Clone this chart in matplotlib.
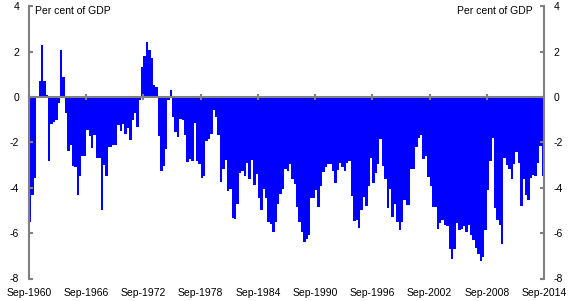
import numpy as np
import matplotlib
matplotlib.use("Agg")
import matplotlib.pyplot as plt

plt.rcParams['font.family'] = ['Liberation Sans', 'DejaVu Sans']
plt.rcParams['axes.unicode_minus'] = False

# quarterly balance, per cent of GDP, Sep-1960 onwards
balance = [
    -5.5, -4.3, -3.55, 0.05, 0.7, 2.3, 0.7, 0.07, -2.8, -1.2,
    -1.1, -1.03, -0.26, 2.06, 0.87, -0.7, -2.4, -2.1, -3.06, -3.1,
    -4.3, -3.5, -2.6, -2.6, -1.44, -1.7, -2.26, -1.68, -2.68, -2.68,
    -4.98, -3.0, -3.47, -2.2, -2.2, -2.1, -2.1, -1.25, -1.5, -1.2,
    -1.65, -1.35, -1.9, -1.0, -0.7, -1.3, -0.12, 1.32, 1.8, 2.43,
    2.07, 1.72, 0.53, 0.44, -1.7, -3.25, -3.03, -2.28, -0.13, 0.3,
    -0.87, -1.53, -1.75, -0.98, -1.0, -1.66, -2.85, -2.75, -2.8, -1.14,
    -2.8, -2.95, -3.56, -3.5, -1.93, -1.85, -1.62, -0.57, -0.87, -1.67,
    -3.74, -3.16, -2.78, -4.13, -4.07, -5.34, -5.38, -4.72, -3.37, -3.28,
    -3.49, -2.93, -3.62, -2.78, -3.87, -3.4, -4.44, -5.0, -4.04, -4.44,
    -5.5, -5.59, -5.94, -5.5, -4.71, -4.27, -4.07, -3.18, -3.24, -2.96,
    -3.6, -3.84, -4.84, -5.53, -5.97, -6.41, -6.24, -6.1, -4.44, -4.44,
    -4.1, -4.84, -3.93, -3.32, -3.1, -2.96, -2.96, -3.24, -3.78, -3.22,
    -2.9, -3.1, -3.25, -2.93, -2.82, -4.37, -5.45, -5.4, -5.77, -5.0,
    -4.42, -4.8, -3.92, -2.7, -3.78, -3.34, -2.96, -1.85, -3.02, -3.62,
    -4.88, -4.05, -5.28, -4.7, -5.53, -5.84, -5.5, -4.54, -4.74, -4.74,
    -3.18, -3.18, -2.19, -1.8, -1.66, -2.73, -2.58, -3.51, -3.92, -4.86,
    -4.86, -5.8, -5.54, -5.43, -5.65, -5.69, -6.71, -7.12, -6.69, -5.54,
    -5.86, -5.8, -5.69, -5.97, -5.65, -6.1, -6.3, -6.65, -6.9, -7.22,
    -7.07, -5.86, -4.1, -2.83, -1.81, -4.9, -5.4, -5.65, -6.5, -2.68,
    -3.0, -3.17, -3.6, -2.96, -2.41, -2.93, -4.8, -3.62, -4.3, -4.56,
    -3.56, -3.44, -3.49, -2.93, -2.15, -3.49,
]

tick_years = [1960, 1966, 1972, 1978, 1984, 1990, 1996, 2002, 2008, 2014]
tick_labels = ['Sep-%d' % y for y in tick_years]
y_ticks = [-8, -6, -4, -2, 0, 2, 4]
grey = '#808080'

fig = plt.figure(figsize=(5.75, 3.01), dpi=100)
ax = fig.add_axes([29 / 575, 1 - 278.5 / 301, 515 / 575, (278.5 - 6.3) / 301])

x = np.arange(len(balance))
ax.bar(x, balance, width=1.0, align='edge', color='#0000ff', linewidth=0)

ax.set_xlim(0, len(balance))
ax.set_ylim(-8, 4)

ax.spines['top'].set_visible(False)
for side in ['left', 'right', 'bottom']:
    ax.spines[side].set_color(grey)
    ax.spines[side].set_linewidth(1.5)
ax.spines['bottom'].set_position(('data', 0))

tick_pos = [(y - 1960) * 4 for y in tick_years]
ax.set_xticks(tick_pos)
ax.tick_params(axis='x', direction='inout', length=5, width=1.5, color=grey,
               labelbottom=False)

ax.set_yticks(y_ticks)
ax.tick_params(axis='y', direction='in', length=3, width=1.5, color=grey,
               left=True, right=True, labelleft=True, labelright=True,
               labelsize=7.5, pad=7)

# date labels sit at the bottom, ticks stay on the zero line
sec = ax.secondary_xaxis('bottom')
sec.set_xticks(tick_pos, labels=tick_labels)
sec.tick_params(length=0, pad=7, labelsize=7.5)
sec.spines['bottom'].set_visible(False)

ax.text(0.012, 1.0, 'Per cent of GDP', transform=ax.transAxes,
        ha='left', va='top', fontsize=7.5)
ax.text(0.977, 1.0, 'Per cent of GDP', transform=ax.transAxes,
        ha='right', va='top', fontsize=7.5)

fig.savefig('out.png', dpi=100)
